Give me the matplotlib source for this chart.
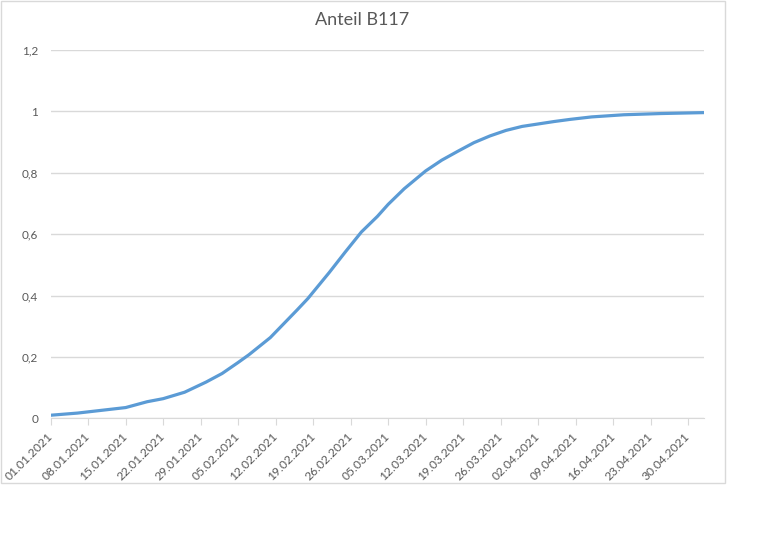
import pandas as pd
import matplotlib
matplotlib.use('Agg')
import matplotlib.pyplot as plt
import matplotlib.dates as mdates
from matplotlib.patches import Rectangle
from matplotlib.ticker import FuncFormatter

plt.rcParams['font.family'] = ['Lato', 'DejaVu Sans']

# days since 01.01.2021 and share of B117
day_offsets = [0, 5, 9, 14, 18, 21, 25, 29, 32, 35, 37, 41, 46, 48, 52, 55, 58, 61, 63,
               66, 70, 73, 76, 79, 82, 85, 88, 91, 94, 97, 101, 107, 114, 122]
anteil = [0.010, 0.017, 0.025, 0.035, 0.054, 0.064, 0.085, 0.118, 0.146, 0.182, 0.207,
          0.263, 0.353, 0.390, 0.475, 0.542, 0.607, 0.658, 0.697, 0.748, 0.806,
          0.841, 0.870, 0.898, 0.920, 0.938, 0.951, 0.959, 0.967, 0.974, 0.982,
          0.989, 0.993, 0.996]
start = pd.Timestamp('2021-01-01')
dates = [start + pd.Timedelta(days=d) for d in day_offsets]
tick_dates = pd.date_range('2021-01-01', '2021-04-30', freq='7D')
y_ticks = [0, 0.2, 0.4, 0.6, 0.8, 1.0, 1.2]

grey = '#595959'
grid = '#d9d9d9'

fig = plt.figure(figsize=(7.68, 5.53), dpi=100)
# chart area border like in Excel
fig.patches.append(Rectangle((0.5 / 768, 1 - 483 / 553), 724.5 / 768, 482.5 / 553,
                             transform=fig.transFigure, fill=False, edgecolor=grid, lw=1))

ax = fig.add_axes([50.7 / 768, (553 - 418.3) / 553, (704.2 - 50.7) / 768, (418.3 - 50) / 553])
ax.plot(dates, anteil, color='#5b9bd5', lw=2.3, solid_capstyle='round', solid_joinstyle='round')

ax.set_ylim(0, 1.2)
ax.set_yticks(y_ticks)
ax.yaxis.set_major_formatter(FuncFormatter(lambda v, p: f'{v:g}'.replace('.', ',')))
ax.set_xlim(start, start + pd.Timedelta(days=122))
ax.set_xticks(tick_dates)
ax.xaxis.set_major_formatter(mdates.DateFormatter('%d.%m.%Y'))

ax.grid(axis='y', color=grid, lw=1)
ax.set_axisbelow(True)
for s in ['left', 'right', 'top']:
    ax.spines[s].set_visible(False)
ax.spines['bottom'].set_color(grid)
ax.tick_params(axis='y', length=0, pad=9, labelsize=8.5, labelcolor=grey)
ax.tick_params(axis='x', length=5, color=grid, pad=7, labelsize=8.7, labelcolor=grey)
plt.setp(ax.get_xticklabels(), rotation=45, ha='right', va='center', rotation_mode='anchor')

fig.text(362.5 / 768, 1 - 20 / 553, 'Anteil B117', ha='center', va='center', fontsize=13, color=grey)

fig.savefig('out.png', dpi=100)
